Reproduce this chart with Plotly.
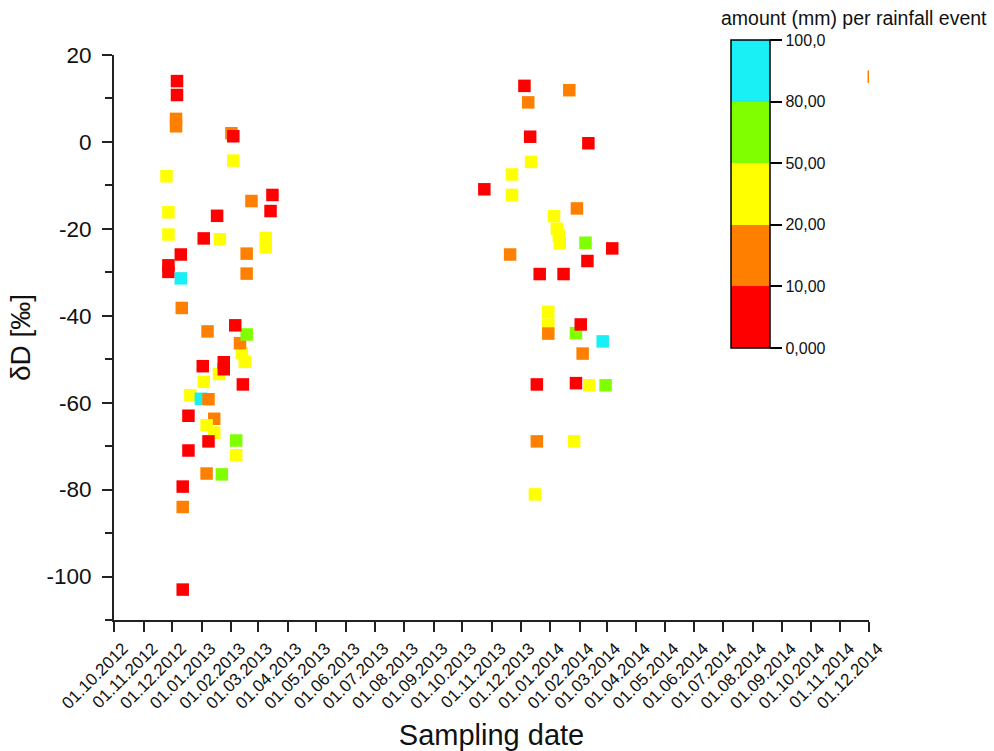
import plotly.graph_objects as go

# Sampling dates, deltaD values and rainfall-amount class (lower bound, mm) per event
dates = [
    "2012-12-06", "2012-12-06", "2012-12-05", "2012-12-05", "2012-11-25", "2012-11-27",
    "2012-11-27", "2012-12-10", "2012-11-27", "2012-11-27", "2012-12-10", "2012-12-11",
    "2012-12-12", "2012-12-12", "2012-12-12", "2012-12-20", "2012-12-18", "2012-12-18",
    "2013-01-02", "2013-01-03", "2012-12-31", "2013-01-08", "2013-01-14", "2013-01-06",
    "2013-01-14", "2013-01-08", "2013-01-06", "2013-01-22", "2013-02-06", "2013-02-06",
    "2013-01-19", "2013-01-24", "2013-01-24", "2013-02-13", "2013-02-12", "2013-02-15",
    "2013-02-10", "2013-02-17", "2013-02-05", "2013-01-07", "2013-01-03", "2013-01-20",
    "2013-01-17", "2013-02-01", "2013-02-03", "2013-02-03", "2013-02-22", "2013-03-16",
    "2013-03-14", "2013-03-09", "2013-03-09", "2013-02-17", "2013-02-17",
    "2013-12-05", "2013-12-09", "2014-01-21", "2013-12-11", "2014-02-10", "2013-12-12",
    "2013-11-22", "2013-10-24", "2013-11-22", "2014-01-29", "2014-01-05", "2014-01-08",
    "2014-01-10", "2014-01-11", "2014-02-07", "2014-03-07", "2014-02-09", "2013-11-20",
    "2013-12-21", "2014-01-15", "2013-12-30", "2013-12-30", "2013-12-30", "2014-01-28",
    "2014-02-02", "2014-02-25", "2014-02-04", "2013-12-18", "2014-01-28", "2014-02-11",
    "2014-02-28", "2013-12-18", "2014-01-26", "2013-12-16", "2014-12-06",
]
delta_d = [
    14.0, 10.8, 5.3, 3.6, -7.9, -16.2,
    -21.3, -25.9, -28.4, -29.9, -31.4, -38.2,
    -79.3, -84.0, -103.0, -58.3, -63.0, -71.0,
    -51.6, -55.2, -59.1, -59.2, -63.7, -65.2,
    -66.9, -68.9, -76.3, -76.5, -68.7, -72.1,
    -53.4, -50.7, -52.3, -55.8, -48.6, -50.6,
    -46.3, -44.3, -42.2, -43.6, -22.2, -22.4,
    -17.0, 2.0, 1.3, -4.3, -13.6, -12.2,
    -15.9, -22.1, -24.2, -25.7, -30.3,
    12.9, 9.1, 11.9, 1.2, -0.3, -4.6,
    -7.5, -10.9, -12.2, -15.3, -17.1, -20.0,
    -21.6, -23.3, -23.2, -24.5, -27.4, -25.9,
    -30.4, -30.4, -39.1, -42.0, -44.1, -44.0,
    -42.0, -45.9, -48.7, -55.8, -55.5, -56.0,
    -56.0, -68.9, -68.9, -81.1, 15.0,
]
rain_class = [
    0, 0, 10, 10, 20, 20,
    20, 0, 0, 0, 80, 10,
    0, 10, 0, 20, 0, 0,
    0, 20, 80, 10, 10, 20,
    20, 0, 10, 50, 50, 20,
    20, 0, 0, 0, 20, 20,
    10, 50, 0, 10, 0, 20,
    0, 10, 0, 20, 10, 0,
    0, 20, 20, 10, 10,
    0, 10, 10, 0, 0, 20,
    20, 0, 20, 10, 20, 20,
    20, 20, 50, 0, 0, 10,
    0, 0, 20, 20, 10, 50,
    0, 80, 10, 0, 0, 20,
    50, 10, 20, 20, 10,
]

class_bounds = [0, 10, 20, 50, 80, 100]
class_labels = ["0,000", "10,00", "20,00", "50,00", "80,00", "100,0"]
class_colors = ["#FF0000", "#FF8000", "#FFFF00", "#80FF00", "#19F0F5"]

y_ticks = [-100, -80, -60, -40, -20, 0, 20]
y_ticktext = ["-100", "-80", "-60", "-40", "-20", "0", "20"]

# Colour index for each point (centre of its class band)
color_index = [class_bounds.index(c) + 0.5 for c in rain_class]

n = len(class_colors)
colorscale = []
for i, c in enumerate(class_colors):
    colorscale.append([i / n, c])
    colorscale.append([(i + 1) / n, c])

FONT = "Liberation Sans, Arial, sans-serif"

# plot area in pixels
L, R, T, B = 114, 869, 55, 620
W, H = R - L, B - T

fig = go.Figure()
fig.add_trace(go.Scatter(
    x=dates,
    y=delta_d,
    mode="markers",
    marker=dict(
        symbol="square",
        size=12.5,
        color=color_index,
        cmin=0,
        cmax=n,
        colorscale=colorscale,
        line=dict(width=0),
        opacity=1,
        colorbar=dict(
            tickmode="array",
            tickvals=list(range(n + 1)),
            ticktext=class_labels,
            ticks="outside",
            ticklen=12,
            tickwidth=1.5,
            tickcolor="black",
            tickfont=dict(family=FONT, size=16, color="#111"),
            outlinecolor="black",
            outlinewidth=1.5,
            thickness=39,
            lenmode="pixels",
            len=308,
            x=(731 - L) / W,
            xanchor="left",
            y=(B - 40) / H,
            yanchor="top",
            xpad=0,
            ypad=0,
        ),
    ),
    showlegend=False,
    hoverinfo="x+y",
))

fig.add_annotation(
    text="amount (mm) per rainfall event",
    xref="paper", yref="paper",
    x=(719 - L) / W, y=(B - 18) / H,
    xanchor="left", yanchor="middle",
    showarrow=False,
    font=dict(family=FONT, size=19.5, color="#111"),
)

fig.update_layout(
    width=994,
    height=751,
    margin=dict(l=L, r=994 - R, t=T, b=751 - B, autoexpand=False),
    paper_bgcolor="white",
    plot_bgcolor="white",
    font=dict(family=FONT, color="#111"),
    xaxis=dict(
        type="date",
        range=["2012-10-01", "2014-12-01"],
        tick0="2012-10-01",
        dtick="M1",
        tickformat="%d.%m.%Y",
        tickangle=-45,
        tickfont=dict(family=FONT, size=17, color="#111"),
        ticklabelshift=9,
        ticklabelstandoff=0,
        ticks="outside",
        ticklen=10,
        tickwidth=2,
        tickcolor="#222",
        showline=True,
        linecolor="#222",
        linewidth=2,
        showgrid=False,
        zeroline=False,
        title=dict(text="Sampling date", font=dict(family=FONT, size=29, color="#111"), standoff=18),
    ),
    yaxis=dict(
        range=[-110, 20],
        tickmode="array",
        tickvals=y_ticks,
        ticktext=y_ticktext,
        tickfont=dict(family=FONT, size=22.5, color="#111"),
        ticklabelstandoff=6,
        ticks="outside",
        ticklen=10,
        tickwidth=2,
        tickcolor="#222",
        minor=dict(dtick=10, tick0=0, ticks="outside", ticklen=7, tickwidth=2, tickcolor="#222", showgrid=False),
        showline=True,
        linecolor="#222",
        linewidth=2,
        showgrid=False,
        zeroline=False,
        title=dict(text="δD [‰]", font=dict(family=FONT, size=28, color="#111"), standoff=8),
    ),
)

fig.write_html("out.html")
